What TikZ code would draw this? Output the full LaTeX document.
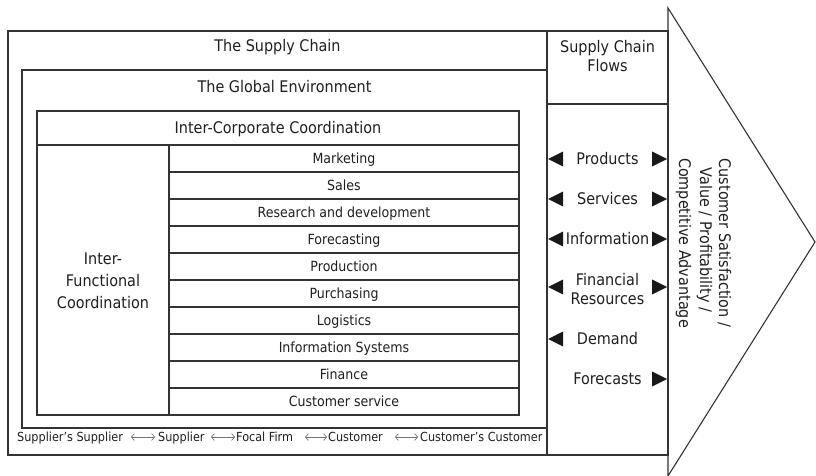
\documentclass[tikz,border=0pt]{standalone}
\usepackage{fontspec}
\setmainfont{DejaVu Sans}[FakeStretch=0.9]
\usetikzlibrary{arrows.meta}
\begin{document}
\begin{tikzpicture}[x=1pt,y=-1pt,
  frame/.style={draw=black!80, line width=1.1pt},
  head/.style={font=\fontsize{16}{19}\selectfont, text=black!88, inner sep=0pt, anchor=base},
  rowbox/.style={draw=black!80, line width=1.1pt, minimum width=350pt, minimum height=27pt,
    inner sep=0pt, text height=10.2pt, text depth=0pt, font=\fontsize{14}{16}\selectfont, text=black!88},
  tri/.style={fill=black!90, draw=none},
  foot/.style={font=\fontsize{12.5}{14}\selectfont, text=black!88, inner sep=0pt, anchor=base west},
  link/.style={{Straight Barb[length=3pt,width=7pt]}-{Straight Barb[length=3pt,width=7pt]}, draw=black!55, line width=0.7pt}
]
\useasboundingbox (0,0) rectangle (816,476);

% chevron
\draw[frame] (668,8) -- (815,242) -- (668,476) -- cycle;
% outer supply chain box
\draw[frame] (8,31) rectangle (668,455);
% flows column
\draw[frame] (547,31) -- (547,455);
\draw[frame] (547,104) -- (668,104);
% global environment
\draw[frame] (547,70) -- (22,70) -- (22,428) -- (547,428);
% inter-corporate box
\draw[frame] (37,111) rectangle (519,415);
\draw[frame] (37,145) -- (519,145);
\draw[frame] (169,145) -- (169,415);

% headings
\node[head] (sc) at (277.5,52) {The Supply Chain};
\node[head] (ge) at (284.5,92.5) {The Global Environment};
\node[head] (icc) at (278,133.5) {Inter-Corporate Coordination};
\node[head] (if1) at (103,264) {Inter-};
\node[head] (if2) at (103,286) {Functional};
\node[head] (if3) at (103,308) {Coordination};
\node[head] (scf1) at (607.5,53) {Supply Chain};
\node[head] (scf2) at (607.5,72) {Flows};

% function rows
\foreach \i/\t in {0/Marketing,1/Sales,2/Research and development,3/Forecasting,4/Production,
  5/Purchasing,6/Logistics,7/Information Systems,8/Finance,9/Customer service}
  \node[rowbox] (r\i) at (344,{158.5+27*\i}) {\t};

% flows
\node[head] (fp) at (607.5,164.8) {Products};
\node[head] (fs) at (607.5,204.8) {Services};
\node[head] (fi) at (607.5,244.8) {Information};
\node[head] (ff1) at (607.5,285.8) {Financial};
\node[head] (ff2) at (607.5,304.8) {Resources};
\node[head] (fd) at (607.5,344.8) {Demand};
\node[head] (fc) at (607.5,384.8) {Forecasts};

\foreach \y in {159,199,239,287,339}
  \fill[tri] (548,\y) -- (563,{\y-7.5}) -- (563,{\y+7.5}) -- cycle;
\foreach \y in {159,199,239,287,379}
  \fill[tri] (667,\y) -- (652,{\y-7.5}) -- (652,{\y+7.5}) -- cycle;

% outcome text
\node[head, rotate=-90] (o1) at (719.2,243) {Customer Satisfaction /};
\node[head, rotate=-90] (o2) at (700.2,240) {Value / Profitability /};
\node[head, rotate=-90] (o3) at (679.2,243) {Competitive Advantage};

% footer chain
\node[foot] (b1) at (17,441) {Supplier\symbol{"27}s Supplier};
\node[foot] (b2) at (158,441) {Supplier};
\node[foot] (b3) at (236,441) {Focal Firm};
\node[foot] (b4) at (328,441) {Customer};
\node[foot] (b5) at (420,441) {Customer\symbol{"27}s Customer};
\foreach \n/\s/\e in {b2/-27/-3,b3/-25/-1,b4/-23/-1,b5/-25/-2}
  \draw[link] ([xshift=\s pt,yshift=4pt]\n.base west) -- ([xshift=\e pt,yshift=4pt]\n.base west);
\end{tikzpicture}
\end{document}
